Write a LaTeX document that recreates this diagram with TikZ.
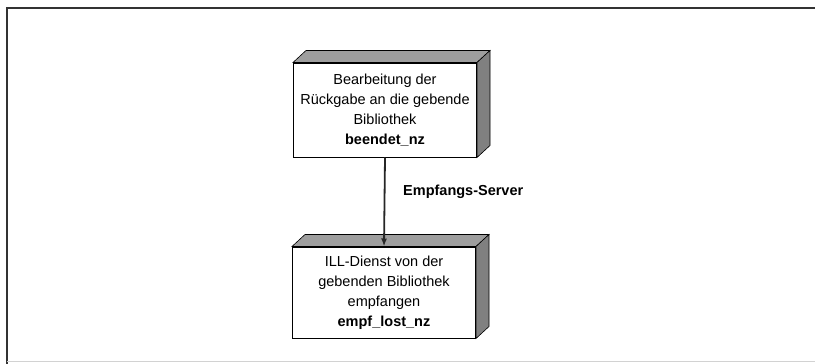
\documentclass[tikz,border=0pt]{standalone}
\usepackage{fontspec}
\setmainfont{Liberation Sans}
\usetikzlibrary{arrows.meta,calc}
\definecolor{hatchtop}{gray}{0.62}
\definecolor{hatchside}{gray}{0.5}
\begin{document}
\begin{tikzpicture}[x=1pt,y=-1pt,
  front/.style={draw=black,line width=1pt,fill=white,minimum width=183pt,inner sep=0pt,
    align=center,font=\fontsize{14.5}{20}\selectfont},
  topface/.style={draw=black,line width=0.6pt,fill=hatchtop},
  sideface/.style={draw=black,line width=0.6pt,fill=hatchside},
  conn/.style={draw=black!85,line width=1.8pt,-{Latex[length=8pt,width=6pt]}},
  lbl/.style={font=\fontsize{14.5}{18}\selectfont\bfseries,anchor=west,inner sep=0pt}]
\useasboundingbox (0,0) rectangle (815,364);
% frame
\draw[line width=1.2pt,black!80] (7,364) -- (7,8) -- (815,8);
\draw[line width=0.6pt,gray!35] (7,361) -- (815,361);
% boxes
\node[front,minimum height=94pt] (b1) at (385,110) {Bearbeitung der\\R\"uckgabe an die gebende\\Bibliothek\\\textbf{beendet\_nz}};
\node[front,minimum height=91pt] (b2) at (384,292.5) {ILL-Dienst von der\\gebenden Bibliothek\\empfangen\\\textbf{empf\_lost\_nz}};
\foreach \bx in {b1,b2}{
  \path[topface] (\bx.north west) -- ($(\bx.north west)+(13,-12)$) -- ($(\bx.north east)+(13,-12)$) -- (\bx.north east) -- cycle;
  \path[sideface] (\bx.north east) -- ($(\bx.north east)+(13,-12)$) -- ($(\bx.south east)+(13,-12)$) -- (\bx.south east) -- cycle;
  \draw[line width=1.6pt] (\bx.south west) -- (\bx.south east);
}
% connector
\draw[conn] (b1.south) -- (b2.north);
\node[lbl] (l1) at (403,192) {Empfangs-Server};
\end{tikzpicture}
\end{document}
